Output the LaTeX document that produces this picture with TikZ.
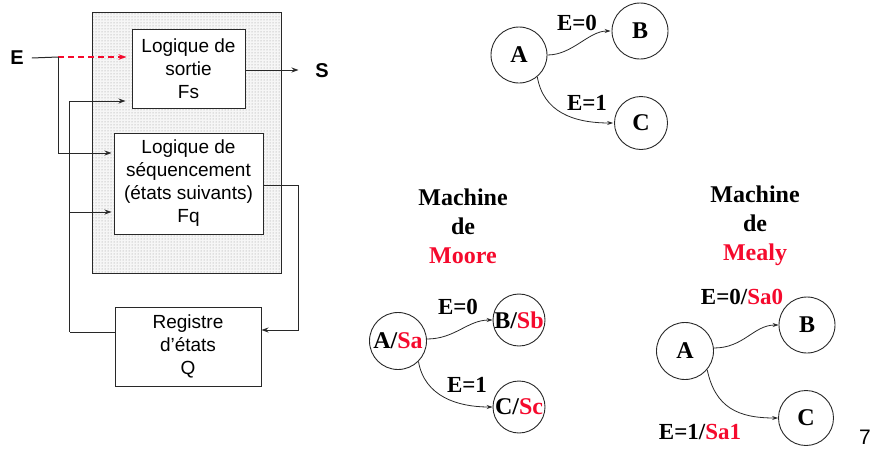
\documentclass[tikz,border=0pt]{standalone}
\usepackage{fontspec}
\setmainfont{Liberation Serif}
\setsansfont{Liberation Sans}
\usetikzlibrary{arrows.meta,patterns}
\definecolor{hired}{RGB}{245,10,45}
\definecolor{linegray}{RGB}{40,40,40}
\tikzset{
  blk/.style={draw=linegray,line width=1pt,fill=white,align=center,inner sep=0pt,
    font=\sffamily\fontsize{19}{23}\selectfont},
  wire/.style={draw=linegray,line width=1pt},
  arr/.style={wire,-{Stealth[length=7pt,width=5pt]}},
  io/.style={font=\sffamily\bfseries\fontsize{20}{22}\selectfont,inner sep=1pt},
  st/.style={circle,draw=linegray,line width=0.9pt,inner sep=0pt,
    font=\bfseries\fontsize{24}{26}\selectfont},
  lbl/.style={font=\bfseries\fontsize{23}{26}\selectfont,inner sep=0pt},
  ttl/.style={font=\bfseries\fontsize{24}{29}\selectfont,align=center,inner sep=0pt},
  tr/.style={draw=linegray,line width=0.8pt,-{Stealth[length=6pt,width=4pt]}},
}
\begin{document}
\begin{tikzpicture}[x=1pt,y=-1pt]
\useasboundingbox (0,0) rectangle (873,461);

% --- block diagram of the sequential machine ---
\node[minimum width=188,minimum height=260,inner sep=0pt] (zn) at (187,143) {};
\fill[gray!7] (zn.north west) rectangle (zn.south east);
\fill[pattern=dots,pattern color=gray!85] (zn.north west) rectangle (zn.south east);
\draw[line width=1.2pt,draw=linegray] (zn.north west) rectangle (zn.south east);

\node[blk,minimum width=113,minimum height=79] (Fs) at (188.5,68.5)
  {Logique de\\sortie\\Fs};
\node[blk,minimum width=149,minimum height=101] (Fq) at (188.5,183.5)
  {Logique de\\séquencement\\(états suivants)\\Fq};
\node[blk,minimum width=146,minimum height=79] (Reg) at (188,346.5)
  {Registre\\d’états\\Q};

\node[io] (E) at (17,58) {E};
\node[io] (S) at (322,71) {S};

\coordinate (j) at (58,57);
\draw[wire] (E.east)++(7,0) -- (j);
\draw[draw=hired,line width=1.3pt,dash pattern=on 6pt off 4pt,
  -{Stealth[length=8pt,width=5.5pt]},shorten >=5pt] (j) -- (j -| Fs.west);
\draw[arr,shorten >=2pt] (j) |- ([yshift=30.5pt]Fq.west);

\draw[wire] ([yshift=14.5pt]Reg.west) -- ++(-45,0) coordinate (fb);
\draw[arr,shorten >=6pt] (fb) |- ([yshift=-32.5pt]Fs.west);
\coordinate (fq2) at ([yshift=-28.5pt]Fq.west);
\draw[arr,shorten >=2pt] (fb |- fq2) -- (fq2);

\draw[arr,shorten >=2pt] ([yshift=-1.5pt]Fs.east) -- ++(55,0);
\draw[arr] ([yshift=-1.5pt]Fq.east) -- ++(35,0) coordinate (rt) |- ([yshift=16.5pt]Reg.east);

% --- generic transition graph ---
\node[st,minimum size=56] (A0) at (519,55) {A};
\node[st,minimum size=56] (B0) at (640,31) {B};
\node[st,minimum size=53] (C0) at (641,123) {C};
\draw[tr] (A0.east) .. controls +(25,0) and +(-22,0) .. ([xshift=-1pt]B0.west);
\draw[tr] (A0.-50) .. controls +(6,35) and +(-40,0) .. ([xshift=-1pt]C0.west);
\node[lbl] (l0a) at (577,23) {E=0};
\node[lbl] (l0b) at (587,103) {E=1};

% --- Moore machine ---
\node[ttl] (tMo) at (463,226) {Machine\\de\\\textcolor{hired}{Moore}};
\node[st,minimum size=57] (A1) at (398,341) {A/\textcolor{hired}{Sa}};
\node[st,minimum size=49] (B1) at (519,320) {B/\textcolor{hired}{Sb}};
\node[st,minimum size=52] (C1) at (519,407) {C/\textcolor{hired}{Sc}};
\draw[tr] ([yshift=2pt]A1.east) .. controls +(28,0) and +(-25,0) .. (B1.west);
\draw[tr] (A1.-45) .. controls +(6,35) and +(-35,0) .. (C1.west);
\node[lbl] (l1a) at (458,307) {E=0};
\node[lbl] (l1b) at (467,385) {E=1};

% --- Mealy machine ---
\node[ttl] (tMe) at (755,226) {Machine\\de\\\textcolor{hired}{Mealy}};
\node[st,minimum size=57] (A2) at (685,351) {A};
\node[st,minimum size=56] (B2) at (807,325) {B};
\node[st,minimum size=55] (C2) at (806,418) {C};
\draw[tr] ([yshift=3pt]A2.east) .. controls +(30,0) and +(-25,0) .. (B2.west);
\draw[tr] (A2.-40) .. controls +(8,38) and +(-40,0) .. (C2.west);
\node[lbl] (l2a) at (742,297) {E=0/\textcolor{hired}{Sa0}};
\node[lbl] (l2b) at (700,432) {E=1/\textcolor{hired}{Sa1}};

\node[font=\sffamily\fontsize{21}{22}\selectfont,inner sep=0pt] (pg) at (865,437) {7};
\end{tikzpicture}
\end{document}
